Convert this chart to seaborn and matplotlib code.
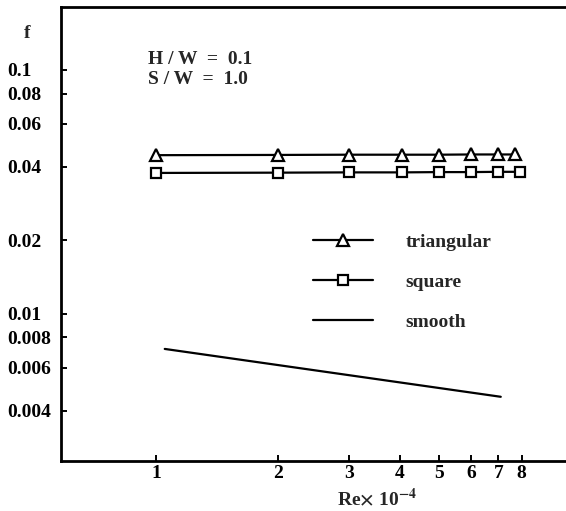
import matplotlib
matplotlib.use("Agg")
import matplotlib.pyplot as plt
import matplotlib.ticker as mticker
import seaborn as sns
import pandas as pd

# ---- data ----
re_tri = [1.0, 2.0, 3.0, 4.05, 5.0, 6.0, 7.0, 7.7]
f_tri = [0.0447, 0.0448, 0.0449, 0.0449, 0.0449, 0.0450, 0.0450, 0.0450]
re_sq = [1.0, 2.0, 3.0, 4.05, 5.0, 6.0, 7.0, 7.9]
f_sq = [0.0378, 0.0379, 0.0380, 0.0380, 0.0381, 0.0381, 0.0382, 0.0382]
re_smooth = [1.05, 7.1]
f_smooth = [0.00718, 0.00457]

x_ticks = [1, 2, 3, 4, 5, 6, 7, 8]
x_ticklabels = ["1", "2", "3", "4", "5", "6", "7", "8"]
y_ticks = [0.004, 0.006, 0.008, 0.01, 0.02, 0.04, 0.06, 0.08, 0.1]
y_ticklabels = ["0.004", "0.006", "0.008", "0.01", "0.02", "0.04", "0.06", "0.08", "0.1"]
series_labels = ["triangular", "square", "smooth"]

sns.set_style("ticks")
plt.rcParams["font.family"] = ["Liberation Serif", "DejaVu Serif"]
plt.rcParams["font.weight"] = "bold"
plt.rcParams["mathtext.fontset"] = "stix"
plt.rcParams["mathtext.default"] = "bf"

FS = 14
W, H = 566, 511
fig = plt.figure(figsize=(W / 100, H / 100), dpi=100)
ax = fig.add_axes([61 / W, 1 - 461 / H, (W - 61) / W, (461 - 7) / H])

df_tri = pd.DataFrame({"Re": re_tri, "f": f_tri})
df_sq = pd.DataFrame({"Re": re_sq, "f": f_sq})
df_sm = pd.DataFrame({"Re": re_smooth, "f": f_smooth})

common = dict(color="black", linewidth=1.6, ax=ax)
sns.lineplot(data=df_tri, x="Re", y="f", marker="^", markersize=8,
             markerfacecolor="white", markeredgecolor="black",
             markeredgewidth=1.6, label=series_labels[0], **common)
sns.lineplot(data=df_sq, x="Re", y="f", marker="s", markersize=7,
             markerfacecolor="white", markeredgecolor="black",
             markeredgewidth=1.6, label=series_labels[1], **common)
sns.lineplot(data=df_sm, x="Re", y="f", label=series_labels[2], **common)

ax.set_xscale("log")
ax.set_yscale("log")
ax.set_xlim(0.582, 10.29)
ax.set_ylim(0.002493, 0.181)

ax.xaxis.set_major_locator(mticker.FixedLocator(x_ticks))
ax.xaxis.set_minor_locator(mticker.NullLocator())
ax.set_xticklabels(x_ticklabels)
ax.yaxis.set_major_locator(mticker.FixedLocator(y_ticks))
ax.yaxis.set_minor_locator(mticker.NullLocator())
ax.set_yticklabels(y_ticklabels)

ax.tick_params(axis="both", direction="in", length=4, width=1.4,
               labelsize=FS, colors="black")
ax.tick_params(axis="x", pad=3)
ax.tick_params(axis="y", pad=39)
for lbl in ax.get_yticklabels():
    lbl.set_horizontalalignment("left")

for side in ["left", "bottom", "top"]:
    ax.spines[side].set_linewidth(2.0)
    ax.spines[side].set_color("black")
ax.spines["right"].set_visible(False)

ax.set_xlabel("")
ax.set_ylabel("")

fig.text(377 / W, 1 - 498 / H, r"Re$\times$ 10$^{-4}$", ha="center",
         va="center", fontsize=FS)
fig.text(27 / W, 1 - 33 / H, "f", ha="center", va="center", fontsize=FS)
fig.text(148 / W, 1 - 60 / H, "H / W  =  0.1", ha="left", va="center",
         fontsize=FS)
fig.text(148 / W, 1 - 80 / H, "S / W  =  1.0", ha="left", va="center",
         fontsize=FS)

leg = ax.legend(loc="upper left", bbox_to_anchor=(313 / W, 1 - 233 / H),
                bbox_transform=fig.transFigure, frameon=False, fontsize=FS,
                handlelength=3.1, handletextpad=1.65, labelspacing=1.15,
                borderpad=0, borderaxespad=0)

fig.savefig("out.png", dpi=100, facecolor="white")
